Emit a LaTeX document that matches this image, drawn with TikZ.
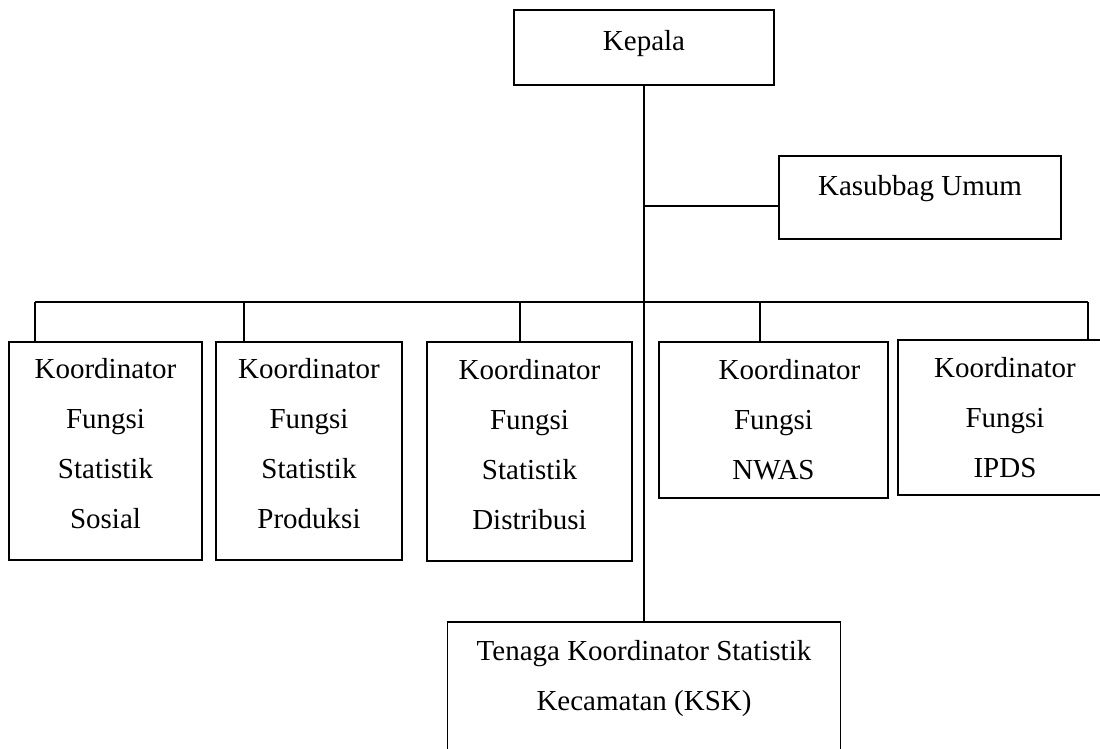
\documentclass[tikz,border=0pt]{standalone}
\usepackage{fontspec}
\setmainfont{Liberation Serif}
\begin{document}
\begin{tikzpicture}[x=1pt,y=-1pt,line width=1.6pt,
    unit/.style={draw,rectangle,inner sep=0pt,align=center,font=\fontsize{29}{50}\selectfont}]
    \useasboundingbox (0,0) rectangle (1100,748);
    \clip (0,0) rectangle (1100,748);
    \node[unit,minimum width=260pt,minimum height=75pt,text depth=15pt] (kepala) at (644,47.5) {Kepala};
    \node[unit,minimum width=282pt,minimum height=83pt,text depth=25pt] (kasubbag) at (920,197.5) {Kasubbag Umum};
    \node[unit,minimum width=193pt,minimum height=218pt] (sosial) at (105.5,451) {Koordinator\\Fungsi\\Statistik\\Sosial\strut};
    \node[unit,minimum width=186pt,minimum height=218pt] (produksi) at (309,451) {Koordinator\\Fungsi\\Statistik\\Produksi\strut};
    \node[unit,minimum width=205pt,minimum height=219pt] (distribusi) at (529.5,451.5) {Koordinator\\Fungsi\\Statistik\\Distribusi\strut};
    \node[unit,minimum width=229pt,minimum height=156pt] (nwas) at (773.5,420) {\hspace*{32pt}Koordinator\\Fungsi\\NWAS};
    \node[unit,minimum width=214pt,minimum height=155pt] (ipds) at (1005,417.5) {Koordinator\\Fungsi\\IPDS};
    \node[unit,minimum width=393pt,minimum height=171pt] (ksk) at (644,707.5) {Tenaga Koordinator Statistik\\Kecamatan (KSK)\\\strut};
    \coordinate (mid) at (644,206);
    \coordinate (tsos) at (35,302);
    \coordinate (tprod) at (244,302);
    \coordinate (tdist) at (520,302);
    \coordinate (tnwas) at (760,302);
    \coordinate (tipds) at (1088,302);
    \draw (kepala) -- (ksk);
    \draw (mid) -- (mid -| kasubbag.west);
    \draw (tsos) -- (tipds);
    \foreach \tk/\bx in {tsos/sosial,tprod/produksi,tdist/distribusi,tnwas/nwas,tipds/ipds}
        \draw (\tk) -- (\tk |- \bx.north);
\end{tikzpicture}
\end{document}
